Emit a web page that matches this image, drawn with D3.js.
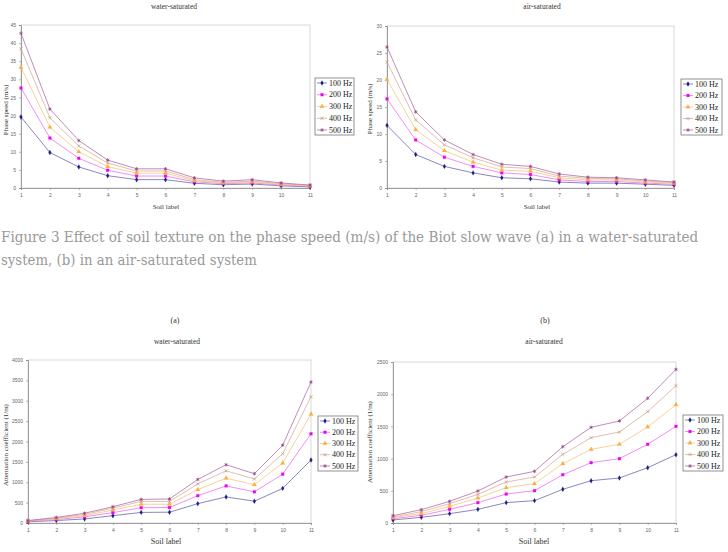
<!DOCTYPE html>
<html>
<head>
<meta charset="utf-8">
<script src="https://cdn.jsdelivr.net/npm/d3@7"></script>
<style>
  body { margin: 0; background: #fff; }
  svg { display: block; }
</style>
</head>
<body>
<div class="canvas"></div>
<script>
// what to show
var soilLabels = [1, 2, 3, 4, 5, 6, 7, 8, 9, 10, 11];
var freqLabels = ['100 Hz', '200 Hz', '300 Hz', '400 Hz', '500 Hz'];

// phase speed (m/s), one row per frequency
var waterSpeed = [
    [19.6, 9.8, 5.8, 3.4, 2.3, 2.3, 1.3, 0.9, 1.1, 0.6, 0.3],
    [27.6, 13.8, 8.2, 4.9, 3.3, 3.3, 1.7, 1.2, 1.4, 0.8, 0.5],
    [33.3, 16.8, 10.0, 5.9, 4.1, 4.1, 2.0, 1.4, 1.7, 1.0, 0.6],
    [38.4, 19.4, 11.6, 6.9, 4.7, 4.7, 2.3, 1.6, 1.9, 1.2, 0.7],
    [42.7, 21.8, 13.1, 7.7, 5.3, 5.3, 2.8, 1.9, 2.3, 1.4, 0.8]
];
var airSpeed = [
    [11.6, 6.2, 4.0, 2.8, 1.9, 1.7, 1.1, 0.9, 0.9, 0.7, 0.5],
    [16.5, 8.9, 5.7, 4.0, 2.8, 2.5, 1.5, 1.2, 1.2, 0.9, 0.7],
    [20.1, 10.8, 6.9, 4.8, 3.3, 3.1, 1.9, 1.5, 1.5, 1.1, 0.9],
    [23.3, 12.6, 8.0, 5.6, 3.9, 3.6, 2.2, 1.8, 1.7, 1.3, 1.0],
    [26.1, 14.1, 8.9, 6.2, 4.4, 4.0, 2.6, 2.0, 1.9, 1.5, 1.1]
];

// attenuation coefficient (1/m)
var waterAtt = [
    [30, 60, 100, 180, 260, 265, 475, 640, 535, 850, 1545],
    [40, 85, 150, 255, 375, 380, 670, 910, 765, 1200, 2190],
    [50, 105, 180, 320, 460, 460, 820, 1100, 940, 1470, 2670],
    [55, 120, 210, 365, 530, 530, 960, 1280, 1080, 1700, 3100],
    [60, 135, 240, 400, 580, 590, 1070, 1430, 1210, 1910, 3460]
];
var airAtt = [
    [47, 88, 145, 212, 316, 347, 523, 657, 699, 859, 1061],
    [67, 119, 212, 316, 450, 502, 750, 937, 999, 1222, 1501],
    [83, 145, 259, 388, 549, 611, 921, 1144, 1222, 1491, 1837],
    [93, 176, 300, 445, 637, 714, 1066, 1325, 1413, 1729, 2133],
    [114, 207, 336, 497, 714, 802, 1185, 1486, 1584, 1936, 2386]
];

// tick labels
var waterSpeedTicks = [0, 5, 10, 15, 20, 25, 30, 35, 40, 45];
var airSpeedTicks = [0, 5, 10, 15, 20, 25, 30];
var waterAttTicks = [0, 500, 1000, 1500, 2000, 2500, 3000, 3500, 4000];
var airAttTicks = [0, 500, 1000, 1500, 2000, 2500];

var captionLines = [
    'Figure 3 Effect of soil texture on the phase speed (m/s) of the Biot slow wave (a) in a water-saturated',
    'system, (b) in an air-saturated system'
];

// what does it look like
var colors = ['#1c1c84', '#f000f0', '#f7b045', '#c4967c', '#93397f'];
var lineColors = ['#6a6ab0', '#f070f0', '#f7c580', '#d4b09c', '#b070a4'];
var symbols = [
    { type: d3.symbolDiamond, size: 7, fill: true },
    { type: d3.symbolSquare, size: 8, fill: true },
    { type: d3.symbolTriangle, size: 9, fill: true },
    { type: d3.symbolX || d3.symbolCross, size: 8, fill: false },
    { type: d3.symbolAsterisk || d3.symbolCross, size: 9, fill: false }
];
var serif = '"Liberation Serif", "Times New Roman", serif',
    sans = '"Liberation Sans", Arial, sans-serif';

var width = 728, height = 552;

var svg = d3.select('.canvas').append('svg')
    .attr('width', width)
    .attr('height', height);

function drawMarker(sel, i) {
    var s = symbols[i];
    sel.append('path')
        .attr('d', d3.symbol().type(s.type).size(s.size))
        .attr('fill', s.fill ? colors[i] : 'none')
        .attr('stroke', colors[i])
        .attr('stroke-width', s.fill ? 0.2 : 0.7);
}

function drawPanel(p) {
    var x = d3.scalePoint()
        .domain(soilLabels)
        .range([p.left, p.right]);
    var y = d3.scaleLinear()
        .domain([0, d3.max(p.ticks)])
        .range([p.bottom, p.top]);

    var g = svg.append('g');

    // plot frame
    g.append('rect')
        .attr('x', p.left).attr('y', p.top)
        .attr('width', p.right - p.left)
        .attr('height', p.bottom - p.top)
        .attr('fill', 'none')
        .attr('stroke', '#cfcfcf')
        .attr('stroke-width', 0.8);

    var yAxis = g.append('g')
        .attr('transform', 'translate(' + p.left + ',0)')
        .call(d3.axisLeft(y).tickValues(p.ticks).tickSize(2).tickPadding(3).tickFormat(d3.format('d')));
    var xAxis = g.append('g')
        .attr('transform', 'translate(0,' + p.bottom + ')')
        .call(d3.axisBottom(x).tickSize(2).tickPadding(3));

    [yAxis, xAxis].forEach(function (a) {
        a.select('.domain').attr('stroke', '#8a8a8a').attr('stroke-width', 0.8);
        a.selectAll('.tick line').attr('stroke', '#8a8a8a').attr('stroke-width', 0.6);
        a.selectAll('.tick text')
            .attr('fill', '#666')
            .style('font-family', sans)
            .style('font-size', '5px');
    });

    // series
    var line = d3.line()
        .x(function (d, i) { return x(soilLabels[i]); })
        .y(function (d) { return y(d); });

    p.data.forEach(function (row, si) {
        g.append('path')
            .datum(row)
            .attr('d', line)
            .attr('fill', 'none')
            .attr('stroke', lineColors[si])
            .attr('stroke-width', 0.8);

        g.selectAll('.m' + si)
            .data(row)
            .enter()
            .append('g')
            .attr('class', 'm' + si)
            .attr('transform', function (d, i) {
                return 'translate(' + x(soilLabels[i]) + ',' + y(d) + ')';
            })
            .each(function () { drawMarker(d3.select(this), si); });
    });

    // titles
    if (p.tag) {
        svg.append('text')
            .attr('x', p.tagX).attr('y', p.tagY)
            .attr('text-anchor', 'middle')
            .style('font-family', serif)
            .style('font-size', '8px')
            .attr('fill', '#333')
            .text(p.tag);
    }
    svg.append('text')
        .attr('x', p.titleX).attr('y', p.titleY)
        .attr('text-anchor', 'middle')
        .style('font-family', serif)
        .style('font-size', '7.5px')
        .attr('fill', '#333')
        .text(p.title);

    svg.append('text')
        .attr('transform', 'translate(' + p.yLabelX + ',' + p.yLabelY + ') rotate(-90)')
        .attr('text-anchor', 'middle')
        .attr('dy', '0.35em')
        .style('font-family', serif)
        .style('font-size', '7px')
        .attr('fill', '#333')
        .text(p.yLabel);

    svg.append('text')
        .attr('x', p.xLabelX).attr('y', p.xLabelY)
        .attr('text-anchor', 'middle')
        .style('font-family', serif)
        .style('font-size', p.xLabelSize)
        .attr('fill', '#333')
        .text('Soil label');

    // legend
    var lg = svg.append('g')
        .attr('transform', 'translate(' + p.legend[0] + ',' + p.legend[1] + ')');
    lg.append('rect')
        .attr('width', p.legend[2])
        .attr('height', p.legend[3])
        .attr('fill', '#fff')
        .attr('stroke', '#777')
        .attr('stroke-width', 0.8);

    var step = (p.legend[3] - 10) / (freqLabels.length - 1);
    freqLabels.forEach(function (f, i) {
        var row = lg.append('g')
            .attr('transform', 'translate(0,' + (5 + i * step) + ')');
        row.append('line')
            .attr('x1', 2).attr('x2', 12)
            .attr('stroke', lineColors[i])
            .attr('stroke-width', 0.8);
        var mk = row.append('g').attr('transform', 'translate(7,0)');
        drawMarker(mk, i);
        row.append('text')
            .attr('x', 14)
            .attr('dy', '0.33em')
            .style('font-family', serif)
            .style('font-size', '8px')
            .attr('fill', '#222')
            .text(f);
    });
}

var panels = [
    {
        data: waterSpeed, ticks: waterSpeedTicks,
        left: 21, right: 310, top: 25, bottom: 188,
        title: 'water-saturated', titleX: 174, titleY: 9,
        yLabel: 'Phase speed (m/s)', yLabelX: 6, yLabelY: 110,
        xLabelX: 166, xLabelY: 209, xLabelSize: '7px',
        legend: [315, 78, 39, 57]
    },
    {
        data: airSpeed, ticks: airSpeedTicks,
        left: 387, right: 674, top: 26, bottom: 188,
        title: 'air-saturated', titleX: 542, titleY: 9,
        yLabel: 'Phase speed (m/s)', yLabelX: 370, yLabelY: 109,
        xLabelX: 537, xLabelY: 209, xLabelSize: '7px',
        legend: [681, 79, 41, 56]
    },
    {
        data: waterAtt, ticks: waterAttTicks,
        left: 28, right: 311, top: 360, bottom: 523,
        tag: '(a)', tagX: 175, tagY: 323,
        title: 'water-saturated', titleX: 177, titleY: 344,
        yLabel: 'Attenuation coefficient (1/m)', yLabelX: 6, yLabelY: 445,
        xLabelX: 166, xLabelY: 544, xLabelSize: '8px',
        legend: [318, 416, 40, 55]
    },
    {
        data: airAtt, ticks: airAttTicks,
        left: 393, right: 676, top: 362, bottom: 523,
        tag: '(b)', tagX: 545, tagY: 323,
        title: 'air-saturated', titleX: 544, titleY: 344,
        yLabel: 'Attenuation coefficient (1/m)', yLabelX: 370, yLabelY: 442,
        xLabelX: 534, xLabelY: 544, xLabelSize: '8px',
        legend: [683, 415, 40, 56]
    }
];

panels.forEach(drawPanel);

// caption: draw at natural width, then squeeze horizontally into place
var captionWidths = [698, 256];
captionLines.forEach(function (c, i) {
    var cg = svg.append('g');
    var t = cg.append('text')
        .attr('x', 0)
        .attr('y', 0)
        .style('font-family', '"DejaVu Serif", serif')
        .style('font-size', '15px')
        .attr('fill', '#999')
        .text(c);
    var natural = t.node().getComputedTextLength();
    cg.attr('transform', 'translate(1,' + (242 + i * 23) + ') scale(' + (captionWidths[i] / natural) + ',1)');
});
</script>
</body>
</html>
